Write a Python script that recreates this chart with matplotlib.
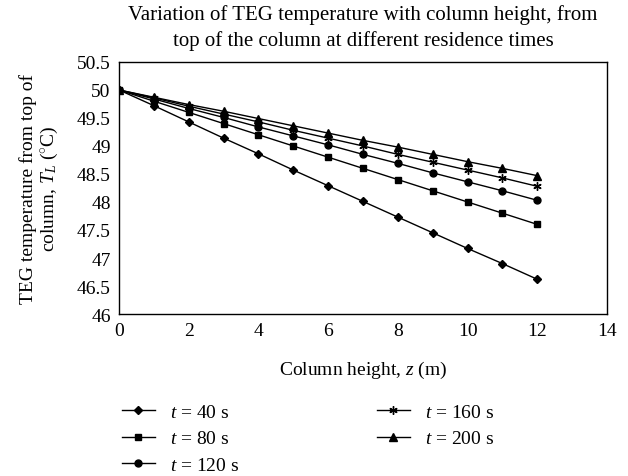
import numpy as np
import matplotlib as mpl
mpl.use('Agg')
import matplotlib.pyplot as plt

plt.rcParams['font.family'] = ['Liberation Serif', 'DejaVu Serif']
plt.rcParams['mathtext.fontset'] = 'custom'
plt.rcParams['mathtext.it'] = 'Liberation Serif:italic'
plt.rcParams['mathtext.rm'] = 'Liberation Serif'

z = [0, 1, 2, 3, 4, 5, 6, 7, 8, 9, 10, 11, 12]
temp_40 = [50, 49.72, 49.43, 49.14, 48.86, 48.57, 48.29, 48.01, 47.73, 47.45, 47.17, 46.90, 46.62]
temp_80 = [50, 49.80, 49.60, 49.40, 49.20, 49.00, 48.80, 48.60, 48.40, 48.20, 48.00, 47.80, 47.60]
temp_120 = [50, 49.84, 49.67, 49.51, 49.34, 49.18, 49.02, 48.85, 48.69, 48.52, 48.36, 48.20, 48.03]
temp_160 = [50, 49.86, 49.71, 49.57, 49.43, 49.28, 49.14, 49.00, 48.85, 48.71, 48.57, 48.43, 48.28]
temp_200 = [50, 49.87, 49.74, 49.62, 49.49, 49.36, 49.23, 49.10, 48.98, 48.85, 48.72, 48.60, 48.47]
labels = ['$t$ = 40 s', '$t$ = 80 s', '$t$ = 120 s', '$t$ = 160 s', '$t$ = 200 s']

fig = plt.figure(figsize=(6.28, 4.77), dpi=100)
ax = fig.add_axes([0.1895, 0.3396, 0.7771, 0.5284])

series = [temp_40, temp_80, temp_120, temp_160, temp_200]
markers = ['D', 's', 'o', (6, 2, 0), '^']
sizes = [4.5, 5, 5, 6, 6]
for vals, m, ms, lab in zip(series, markers, sizes, labels):
    ax.plot(z, vals, color='black', lw=1, marker=m, markersize=ms,
            markeredgewidth=1, label=lab)

ax.set_xlim(0, 14)
ax.set_ylim(46, 50.5)
ax.set_xticks(np.arange(0, 15, 2))
ax.set_yticks(np.arange(46, 50.51, 0.5))
ax.set_yticklabels(['46', '46.5', '47', '47.5', '48', '48.5', '49', '49.5', '50', '50.5'])
ax.tick_params(length=0, labelsize=14, pad=6)
for s in ax.spines.values():
    s.set_linewidth(1)

ax.set_title('Variation of TEG temperature with column height, from\n'
             'top of the column at different residence times',
             fontsize=15, pad=12, linespacing=1.4)
ax.set_xlabel('Column height, $z$ (m)', fontsize=14, labelpad=14)
ax.set_ylabel('TEG temperature from top of\ncolumn, $T_L$ ($^{\\circ}$C)', fontsize=14,
              labelpad=12, linespacing=1.15)

ax.legend(loc='upper left', bbox_to_anchor=(0.194, 0.152), bbox_transform=fig.transFigure,
          ncol=2, frameon=False, borderaxespad=0, borderpad=0,
          fontsize=14, handlelength=1.7, columnspacing=7.05, labelspacing=0.45,
          handletextpad=0.8)

fig.savefig('out.png', dpi=100)
